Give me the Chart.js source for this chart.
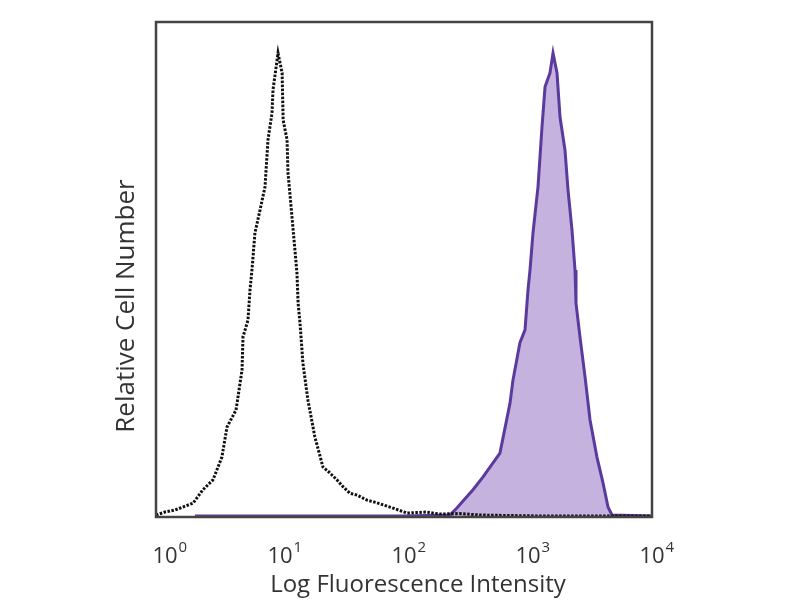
<!DOCTYPE html>
<html>
<head>
<meta charset="utf-8">
<script src="https://cdn.jsdelivr.net/npm/chart.js@4.4.1/dist/chart.umd.min.js"></script>
<style>
  html, body { margin: 0; padding: 0; background: #fff; }
  #wrap { width: 800px; height: 600px; }
</style>
</head>
<body>
<div id="wrap"><canvas id="myChart" width="800" height="600"></canvas></div>
<script>
// isotype control (black dotted)
const isotypeX = [1.00, 1.18, 1.42, 1.99, 2.39, 2.88, 3.40, 3.74, 4.42, 4.94, 5.03, 5.52, 5.73, 5.94, 6.28, 6.90, 7.57, 8.00, 8.62, 8.78, 9.64,
  10.4, 10.6, 11.4, 11.6, 12.0, 12.7, 13.7, 14.0, 14.5, 15.3, 16.8, 19.1, 22.2, 25.0, 28.8, 32.0, 36.7, 42.0, 50.3, 60.0, 77.1, 106, 150, 195, 280, 409, 700, 1250, 3000, 10000];
const isotypeY = [0.4, 1.0, 1.4, 2.8, 5.5, 7.5, 12.1, 18.2, 21.6, 29.7, 36.4, 39.8, 45.9, 49.9, 57.4, 62.0, 66.7, 76.2, 81.6, 86.3, 93.7,
  89.7, 80.2, 76.2, 69.5, 65.5, 58.6, 49.3, 43.2, 39.2, 31.1, 23.6, 16.2, 10.1, 9.0, 7.5, 6.2, 4.8, 4.4, 3.4, 2.9, 2.0, 0.8, 1.0, 0.6, 0.7, 0.4, 0.3, 0.2, 0.2, 0.2];

// stained sample (purple filled)
const stainedX = [2.06, 100, 235, 267, 360, 434, 594, 716, 757, 861, 946, 1000, 1038, 1097, 1204, 1297, 1372, 1504, 1592,
  1714, 1812, 1988, 2102, 2263, 2394, 2438, 2625, 2884, 3164, 3597, 4027, 4419, 4754, 10000];
const stainedY = [0.2, 0.2, 0.4, 1.8, 5.5, 8.1, 12.9, 23.0, 27.7, 35.2, 37.8, 45.9, 49.9, 57.4, 66.7, 78.8, 86.9, 89.7, 93.7,
  89.7, 80.8, 74.1, 66.1, 58.0, 49.9, 43.2, 36.4, 28.3, 19.6, 12.1, 6.9, 2.0, 0.4, 0.2];

const decadeTicks = [1, 10, 100, 1000, 10000];
const decadeExp = ['0', '1', '2', '3', '4'];
const xTitle = 'Log Fluorescence Intensity';
const yTitle = 'Relative Cell Number';

const FONT = 'Open Sans';

const boxPlugin = {
  id: 'box',
  afterDatasetsDraw(chart) {
    const a = chart.chartArea, c = chart.ctx;
    c.save();
    c.strokeStyle = '#444';
    c.lineWidth = 2.5;
    c.strokeRect(a.left, a.top, a.right - a.left, a.bottom - a.top);
    c.restore();
  },
  afterDraw(chart) {
    const c = chart.ctx, xs = chart.scales.x;
    c.save();
    c.fillStyle = '#333';
    c.textBaseline = 'alphabetic';
    decadeTicks.forEach((v, i) => {
      const px = xs.getPixelForValue(v) + (i === 0 ? 9 : 0);
      c.font = '22px "' + FONT + '"';
      const w = c.measureText('10').width;
      c.textAlign = 'left';
      c.fillText('10', px - w / 2, 563);
      c.font = '15px "' + FONT + '"';
      c.fillText(decadeExp[i], px + w / 2 + 1, 552);
    });
    // axis titles
    c.textAlign = 'center';
    c.textBaseline = 'middle';
    c.font = '24px "' + FONT + '"';
    c.fillText(xTitle, 418, 585);
    c.translate(127, 306);
    c.rotate(-Math.PI / 2);
    c.font = '26px "' + FONT + '"';
    c.fillText(yTitle, 0, 0);
    c.restore();
  }
};

const ctx = document.getElementById('myChart').getContext('2d');
const myChart = new Chart(ctx, {
  type: 'line',
  data: {
    datasets: [
      {
        label: 'Isotype',
        data: isotypeX.map((x, i) => ({x: x, y: isotypeY[i]})),
        borderColor: '#111',
        borderWidth: 3,
        borderDash: [2.5, 1.5],
        pointRadius: 0,
        fill: false,
        tension: 0,
        order: 1
      },
      {
        label: 'Stained',
        data: stainedX.map((x, i) => ({x: x, y: stainedY[i]})),
        borderColor: '#5a3a9c',
        borderWidth: 3,
        backgroundColor: '#c6b2de',
        pointRadius: 0,
        fill: 'origin',
        tension: 0,
        order: 2
      }
    ]
  },
  options: {
    responsive: false,
    animation: false,
    layout: { padding: { left: 110, right: 148, top: 22, bottom: 0 } },
    plugins: { legend: { display: false }, tooltip: { enabled: false } },
    scales: {
      x: {
        type: 'logarithmic',
        min: 1,
        max: 10000,
        grid: { display: false },
        border: { display: false },
        ticks: { display: false },
        afterBuildTicks(scale) { scale.ticks = decadeTicks.map(v => ({value: v})); },
        afterFit(scale) { scale.height = 83; }
      },
      y: {
        min: 0,
        max: 100,
        grid: { display: false },
        border: { display: false },
        ticks: { display: false },
        afterFit(scale) { scale.width = 46; }
      }
    }
  },
  plugins: [boxPlugin]
});
</script>
</body>
</html>
